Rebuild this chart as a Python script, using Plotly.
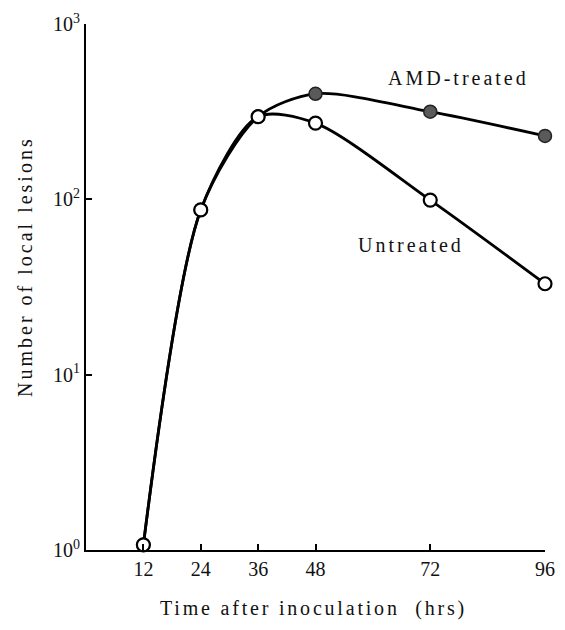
import plotly.graph_objects as go

hours = [12, 24, 36, 48, 72, 96]
untreated = [1.07, 87, 296, 272, 99, 33]
amd_treated = [1.07, 87, 296, 400, 316, 230]

x_ticks = [12, 24, 36, 48, 72, 96]
y_ticks = [1, 10, 100, 1000]
y_ticktext = ["10<sup>0</sup>", "10<sup>1</sup>", "10<sup>2</sup>", "10<sup>3</sup>"]

FONT = "Liberation Serif"
TXT = dict(family=FONT, size=20, color="#111")

def spaced(s, px):
    return f'<span style="letter-spacing:{px}px">{s}</span>'

fig = go.Figure()
fig.add_trace(go.Scatter(
    x=hours, y=amd_treated, mode="lines+markers",
    line=dict(color="black", width=2.8, shape="spline", smoothing=0.8),
    marker=dict(size=13, color="#5a5a5a", line=dict(color="#222", width=1.5)),
    cliponaxis=False, showlegend=False,
))
fig.add_trace(go.Scatter(
    x=hours, y=untreated, mode="lines+markers",
    line=dict(color="black", width=2.8, shape="spline", smoothing=0.8),
    marker=dict(size=13, color="white", line=dict(color="black", width=2.2)),
    cliponaxis=False, showlegend=False,
))

fig.add_annotation(x=78, y=2.69, xref="x", yref="y", text=spaced("AMD-treated", 3),
                   showarrow=False, font=TXT)
fig.add_annotation(x=68, y=1.74, xref="x", yref="y", text=spaced("Untreated", 3),
                   showarrow=False, font=TXT)
fig.add_annotation(x=0.495, y=-0.112, xref="paper", yref="paper",
                   text=spaced("Time after inoculation  (hrs)", 2.8),
                   showarrow=False, font=TXT, xanchor="center", yanchor="middle")
fig.add_annotation(x=-0.133, y=0.54, xref="paper", yref="paper",
                   text=spaced("Number of local lesions", 3), textangle=-90,
                   showarrow=False, font=TXT, xanchor="center", yanchor="middle")

fig.update_xaxes(
    range=[0, 96], tickvals=x_ticks, ticks="inside", ticklen=6, tickwidth=1.5,
    tickcolor="black", showline=True, linecolor="black", linewidth=2,
    showgrid=False, zeroline=False, tickfont=TXT, automargin=False,
)
fig.update_yaxes(
    type="log", range=[0, 3], tickvals=y_ticks, ticktext=y_ticktext,
    ticks="inside", ticklen=6, tickwidth=1.5, tickcolor="black",
    showline=True, linecolor="black", linewidth=2, showgrid=False, zeroline=False,
    tickfont=TXT, automargin=False,
)
fig.update_layout(
    width=549, height=614,
    margin=dict(l=78, r=12, t=16, b=72, autoexpand=False),
    plot_bgcolor="white", paper_bgcolor="white",
    font=dict(family=FONT),
)
fig.write_html("out.html")
